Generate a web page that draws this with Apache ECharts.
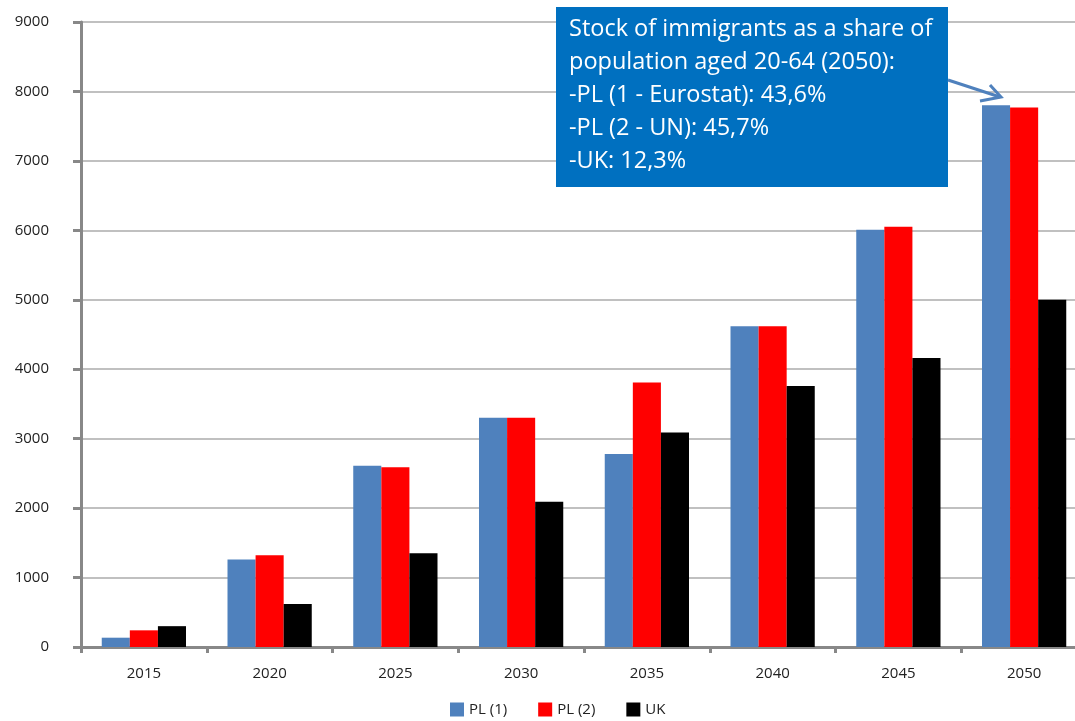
<!DOCTYPE html>
<html>
<head>
<meta charset="utf-8">
<script src="https://cdn.jsdelivr.net/npm/echarts@6/dist/echarts.min.js"></script>
<style>html,body{margin:0;padding:0;background:#fff}#c{width:1075px;height:721px}</style>
</head>
<body>
<div id="c"></div>
<script>
const categories = ['2015','2020','2025','2030','2035','2040','2045','2050'];
const pl1 = [134, 1260, 2610, 3300, 2780, 4620, 6010, 7800];
const pl2 = [240, 1320, 2590, 3300, 3810, 4620, 6050, 7770];
const uk  = [300, 620, 1350, 2090, 3090, 3760, 4160, 5000];
const seriesNames = ['PL (1)', 'PL (2)', 'UK'];
const yTicks = { min: 0, max: 9000, interval: 1000 };
const noteLines = [
  'Stock of immigrants as a share of',
  'population aged 20-64 (2050):',
  '-PL (1 - Eurostat): 43,6%',
  '-PL (2 - UN): 45,7%',
  '-UK: 12,3%'
];

const font = 'Open Sans, Noto Sans, sans-serif';
const chart = echarts.init(document.getElementById('c'), null, {renderer: 'canvas'});
chart.setOption({
  animation: false,
  backgroundColor: '#fff',
  textStyle: { fontFamily: font },
  grid: { left: 81, top: 22, right: -12, bottom: 74, containLabel: false, outerBoundsMode: 'none' },
  legend: {
    top: 702, left: 450, itemWidth: 14, itemHeight: 14, itemGap: 31, padding: 0,
    icon: 'rect',
    textStyle: { fontSize: 15, color: '#222', fontFamily: font },
    data: seriesNames
  },
  xAxis: {
    type: 'category', data: categories,
    axisLine: { lineStyle: { color: '#888', width: 3 } },
    axisTick: { show: true, length: 6, lineStyle: { color: '#888', width: 3 } },
    axisLabel: { fontSize: 15, color: '#222', margin: 19, fontFamily: font }
  },
  yAxis: {
    type: 'value', min: yTicks.min, max: yTicks.max, interval: yTicks.interval,
    axisLine: { show: true, lineStyle: { color: '#888', width: 3 } },
    axisTick: { show: true, length: 8, lineStyle: { color: '#888', width: 3 } },
    axisLabel: { fontSize: 15, color: '#222', margin: 32, fontFamily: font, formatter: v => String(v) },
    splitLine: { lineStyle: { color: '#c0c0c0', width: 2 } }
  },
  series: [
    { name: seriesNames[0], type: 'bar', data: pl1, itemStyle: { color: '#4F81BD' }, barGap: '0%', barCategoryGap: '33%' },
    { name: seriesNames[1], type: 'bar', data: pl2, itemStyle: { color: '#FF0000' }, barGap: '0%', barCategoryGap: '33%' },
    { name: seriesNames[2], type: 'bar', data: uk,  itemStyle: { color: '#000000' }, barGap: '0%', barCategoryGap: '33%' }
  ],
  graphic: [
    { type: 'rect', shape: { x: 556, y: 7, width: 392, height: 180 }, style: { fill: '#0070C0' }, z: 100 },
    { type: 'text', x: 569, y: 13, z: 101,
      style: { text: noteLines.join('\n'), fill: '#fff', font: '23.5px ' + font, lineHeight: 33 } },
    { type: 'line', shape: { x1: 948, y1: 80, x2: 1000, y2: 97 }, style: { stroke: '#4F81BD', lineWidth: 3 }, z: 101 },
    { type: 'polyline', shape: { points: [[980, 101], [1001, 97], [990, 85]] }, style: { stroke: '#4F81BD', lineWidth: 3, fill: null }, z: 101 }
  ]
});
</script>
</body>
</html>
